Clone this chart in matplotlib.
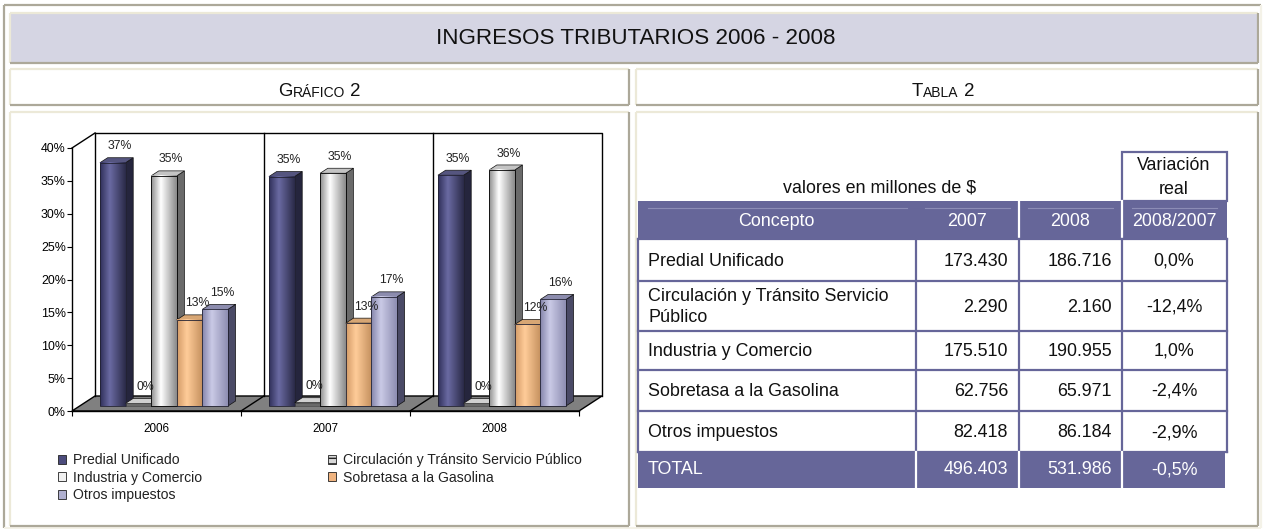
import numpy as np
import matplotlib
matplotlib.use("Agg")
import matplotlib.pyplot as plt
from matplotlib import font_manager
from matplotlib.patches import Polygon, Rectangle, Patch
from matplotlib.colors import LinearSegmentedColormap

# ---- data ----
years = ["2006", "2007", "2008"]
series = ["Predial Unificado", "Circulación y Tránsito Servicio Público",
          "Industria y Comercio", "Sobretasa a la Gasolina", "Otros impuestos"]
share_2006 = [37.0, 0.4, 35.0, 13.1, 14.7]
share_2007 = [34.9, 0.5, 35.4, 12.6, 16.6]
share_2008 = [35.1, 0.4, 35.9, 12.4, 16.2]

conceptos = ["Predial Unificado", "Circulación y Tránsito Servicio\nPúblico",
             "Industria y Comercio", "Sobretasa a la Gasolina", "Otros impuestos"]
valores_2007 = [173430, 2290, 175510, 62756, 82418]
valores_2008 = [186716, 2160, 190955, 65971, 86184]
variacion = [0.0, -12.4, 1.0, -2.4, -2.9]
total_2007 = 496403
total_2008 = 531986
total_var = -0.5

# ---- fonts: the original uses a narrow sans; fall back to scaled Liberation Sans ----
names = {f.name for f in font_manager.fontManager.ttflist}
if "Liberation Sans Narrow" in names:
    FONT, K = "Liberation Sans Narrow", 1.0
else:
    FONT, K = "Liberation Sans", 0.85
plt.rcParams["font.family"] = [FONT, "DejaVu Sans"]

W, H = 1263, 529
PURPLE = "#666699"
LIGHT = "#ece9d8"
DARK = "#aca899"

fig = plt.figure(figsize=(W / 100, H / 100), dpi=100)
page = fig.add_axes([0, 0, 1, 1])
page.set_xlim(0, W)
page.set_ylim(H, 0)
page.axis("off")


def bevel(x0, y0, x1, y1, fill, top_left, bottom_right, lw=1.6):
    page.add_patch(Rectangle((x0, y0), x1 - x0, y1 - y0, fc=fill, ec="none", zorder=0))
    page.plot([x0, x1], [y0, y0], color=top_left, lw=lw, solid_capstyle="butt", zorder=1)
    page.plot([x0, x0], [y0, y1], color=top_left, lw=lw, solid_capstyle="butt", zorder=1)
    page.plot([x0, x1], [y1, y1], color=bottom_right, lw=lw, solid_capstyle="butt", zorder=1)
    page.plot([x1, x1], [y0, y1], color=bottom_right, lw=lw, solid_capstyle="butt", zorder=1)


# page frames
bevel(4, 5, 1261, 528, "white", DARK, "#f4f2e8")
bevel(10, 13, 1258, 63, "#d5d5e3", LIGHT, DARK)
bevel(10, 69, 629, 105, "white", LIGHT, DARK)
bevel(636, 69, 1258, 105, "white", LIGHT, DARK)
bevel(10, 112, 629, 526, "white", LIGHT, DARK)
bevel(636, 112, 1258, 526, "white", LIGHT, DARK)

page.text(636, 39, "INGRESOS TRIBUTARIOS 2006 - 2008", ha="center", va="center",
          fontsize=19 * K, color="#111111")


def small_caps(x, y, first, rest, tail):
    t1 = page.text(x, y, first, ha="left", va="baseline", fontsize=15.8 * K, color="#111111")
    t2 = page.annotate(rest, xy=(1, 0), xycoords=t1, ha="left", va="bottom",
                       fontsize=11.8 * K, color="#111111")
    page.annotate(tail, xy=(1, 0), xycoords=t2, ha="left", va="bottom",
                  fontsize=15.8 * K, color="#111111")


small_caps(278, 96, "G", "RÁFICO", " 2")
small_caps(912, 96, "T", "ABLA", " 2")

# ---- 3D-looking bar chart ----
PX0, PY0 = 72, 411          # pixel of category 0 / 0 %
SX, SY = 169, 6.575         # pixels per category, per percent
DX, DY = 23 / SX, 15 / SY   # full depth offset in data units
al, ar, at, ab = 20, 620, 118, 440
ax = fig.add_axes([al / W, 1 - ab / H, (ar - al) / W, (ab - at) / H])
ax.patch.set_alpha(0)

# floor and back wall
floor = Polygon([(0, 0), (3, 0), (3 + DX, DY), (DX, DY)], closed=True,
                fc="#808080", ec="black", lw=1.0, zorder=1)
ax.add_patch(floor)
ax.plot([DX, 3 + DX, 3 + DX], [40 + DY, 40 + DY, DY], color="black", lw=1.0, zorder=1)
ax.plot([DX, DX], [DY, 40 + DY], color="black", lw=1.0, zorder=1)
ax.plot([0, DX], [40, 40 + DY], color="black", lw=1.0, zorder=1)
for c in [1, 2]:
    ax.plot([c + DX, c + DX], [DY, 40 + DY], color="black", lw=1.0, zorder=1)
    ax.plot([c, c + DX], [0, DY], color="black", lw=1.0, zorder=1.5)

front_cols = [("#30305a", "#6a6aa2", "#2a2a48"),
              ("#d8d8d8", "#f4f4f4", "#bdbdbd"),
              ("#8e8e8e", "#ffffff", "#8a8a8a"),
              ("#d49c68", "#ffcc99", "#c4905e"),
              ("#8484aa", "#cacae6", "#8e8eb2")]
side_cols = ["#25253d", "#9a9a9a", "#6a6a6a", "#9a6c44", "#4a4a66"]
top_cols = ["#55557f", "#d0d0d0", "#c4c4c4", "#d7a674", "#8c8cae"]
legend_cols = ["#4c4c7c", "#d8d8d8", "#f0f0f0", "#f0b480", "#b0b0d0"]

shares = [share_2006, share_2007, share_2008]
BW = 0.1515
G0 = 0.12
F0, F1 = 1 / 3, 2 / 3
ddx, ddy = DX * (F1 - F0), DY * (F1 - F0)
grad = np.linspace(0, 1, 64)[None, :]
z = 3
for gi, vals in enumerate(shares):
    for si, v in enumerate(vals):
        fx = gi + G0 + si * BW + DX * F0
        fy = DY * F0
        # side and top
        ax.add_patch(Polygon([(fx + BW, fy), (fx + BW + ddx, fy + ddy),
                              (fx + BW + ddx, fy + v + ddy), (fx + BW, fy + v)],
                             closed=True, fc=side_cols[si], ec="#111111", lw=0.5, zorder=z))
        ax.add_patch(Polygon([(fx, fy + v), (fx + BW, fy + v),
                              (fx + BW + ddx, fy + v + ddy), (fx + ddx, fy + v + ddy)],
                             closed=True, fc=top_cols[si], ec="#111111", lw=0.5, zorder=z))
        # front face with a cylinder-like gradient
        if si == 1:
            ax.add_patch(Rectangle((fx, fy), BW, v, fc="#e6e6e6", ec="#333333",
                                   lw=0.5, hatch="-----", zorder=z + 0.1))
        else:
            c0, c1, c2 = front_cols[si]
            cm = LinearSegmentedColormap.from_list("b%d" % si, [(0, c0), (0.38, c1), (1, c2)])
            ax.imshow(grad, extent=(fx, fx + BW, fy, fy + v), cmap=cm, aspect="auto",
                      interpolation="bilinear", origin="lower", zorder=z + 0.1)
            ax.add_patch(Rectangle((fx, fy), BW, v, fc="none",
                                   ec="black" if si == 2 else "#222233", lw=0.6, zorder=z + 0.2))
        ax.annotate("%.0f%%" % v, xy=(fx + BW / 2 + ddx / 2, fy + v + ddy / 2),
                    xytext=(2.5, 10), textcoords="offset points", ha="center", va="center",
                    fontsize=10.4 * K, color="#222222", zorder=30)
        z += 1

# axes, ticks and category labels
ax.set_xlim((al - PX0) / SX, (ar - PX0) / SX)
ax.set_ylim((PY0 - ab) / SY, (PY0 - at) / SY)
for s in ["top", "right"]:
    ax.spines[s].set_visible(False)
ax.spines["left"].set_position(("data", 0))
ax.spines["left"].set_bounds(0, 40)
ax.spines["bottom"].set_position(("data", 0))
ax.spines["bottom"].set_bounds(0, 3)
ax.spines["left"].set_linewidth(1.0)
ax.spines["bottom"].set_linewidth(1.0)
ax.set_yticks(range(0, 41, 5))
ax.set_yticklabels(["%d%%" % t for t in range(0, 41, 5)])
ax.tick_params(axis="y", direction="out", length=3.6, width=0.8, pad=0.8,
               labelsize=10.5 * K, colors="black")
ax.set_xticks([0, 1, 2, 3])
ax.set_xticklabels([])
ax.set_xticks([0.5, 1.5, 2.5], minor=True)
ax.set_xticklabels(years, minor=True)
ax.tick_params(axis="x", which="major", direction="out", length=3.6, width=0.8)
ax.tick_params(axis="x", which="minor", length=0, pad=8.5, labelsize=9.9 * K)

# legend (row-wise order like the original)
order = [0, 2, 4, 1, 3]
handles = [Patch(fc=legend_cols[i], ec="#222222", lw=0.6, hatch="---" if i == 1 else None)
           for i in order]
leg_em = 11.9 * K * 100 / 72
leg = fig.legend(handles, [series[i] for i in order], loc="upper left", ncol=2,
                 bbox_to_anchor=(58 / W, 1 - 453 / H), frameon=False,
                 prop={"size": 11.9 * K}, handlelength=0.6, handleheight=0.6,
                 handletextpad=0.5, borderpad=0, borderaxespad=0,
                 labelspacing=(20 - 1.16 * leg_em) / leg_em,
                 columnspacing=125 / leg_em)
for t in leg.get_texts():
    t.set_color("#222222")

# ---- table ----
cols_x = [638, 916, 1019, 1122, 1227]
row_y = [239, 281, 331, 370, 411, 452]
TFS = 15.2 * K


def fmt_num(n):
    return "{:,}".format(n).replace(",", ".")


def fmt_pct(p):
    return ("%.1f%%" % p).replace(".", ",")


page.text(880, 188, "valores en millones de $", ha="center", va="center", fontsize=TFS, color="#111111")
page.add_patch(Rectangle((1122, 152), 105, 49, fc="white", ec=PURPLE, lw=1.6, zorder=2))
page.text(1174, 165, "Variación", ha="center", va="center", fontsize=TFS, color="#111111", zorder=3)
page.text(1174, 189, "real", ha="center", va="center", fontsize=TFS, color="#111111", zorder=3)

# header row
page.add_patch(Rectangle((638, 201), 589, 38, fc=PURPLE, ec="none", zorder=2))
for xa, xb in [(648, 907), (925, 1010), (1028, 1113), (1132, 1217)]:
    page.plot([xa, xb], [208, 208], color="#8c8cb6", lw=0.8, zorder=3)
for xv in [1019, 1122]:
    page.plot([xv, xv], [201, 239], color="white", lw=1.6, zorder=3)
hdr = ["Concepto", "2007", "2008", "2008/2007"]
hdr_x = [776, 967, 1070, 1174]
for label, xh in zip(hdr, hdr_x):
    page.text(xh, 221, label, ha="center", va="center", fontsize=TFS, color="white", zorder=4)

# body rows
for yl in row_y:
    page.plot([638, 1227], [yl, yl], color=PURPLE, lw=1.6, zorder=3)
for xv in cols_x:
    page.plot([xv, xv], [239, 452], color=PURPLE, lw=1.6, zorder=3)
for i, name in enumerate(conceptos):
    yc = (row_y[i] + row_y[i + 1]) / 2 + 1
    page.text(648, yc, name, ha="left", va="center", fontsize=TFS, color="#111111",
              linespacing=1.3, zorder=4)
    page.text(1008, yc, fmt_num(valores_2007[i]), ha="right", va="center", fontsize=TFS, color="#111111", zorder=4)
    page.text(1112, yc, fmt_num(valores_2008[i]), ha="right", va="center", fontsize=TFS, color="#111111", zorder=4)
    page.text(1174, yc, fmt_pct(variacion[i]), ha="center", va="center", fontsize=TFS, color="#111111", zorder=4)

# total row
page.add_patch(Rectangle((638, 452), 587, 36, fc=PURPLE, ec="none", zorder=2))
for xv in [916, 1019, 1122]:
    page.plot([xv, xv], [452, 488], color="white", lw=1.6, zorder=3)
page.text(648, 470, "TOTAL", ha="left", va="center", fontsize=TFS, color="white", zorder=4)
page.text(1008, 470, fmt_num(total_2007), ha="right", va="center", fontsize=TFS, color="white", zorder=4)
page.text(1112, 470, fmt_num(total_2008), ha="right", va="center", fontsize=TFS, color="white", zorder=4)
page.text(1174, 470, fmt_pct(total_var), ha="center", va="center", fontsize=TFS, color="white", zorder=4)

fig.savefig("out.png", dpi=100)
